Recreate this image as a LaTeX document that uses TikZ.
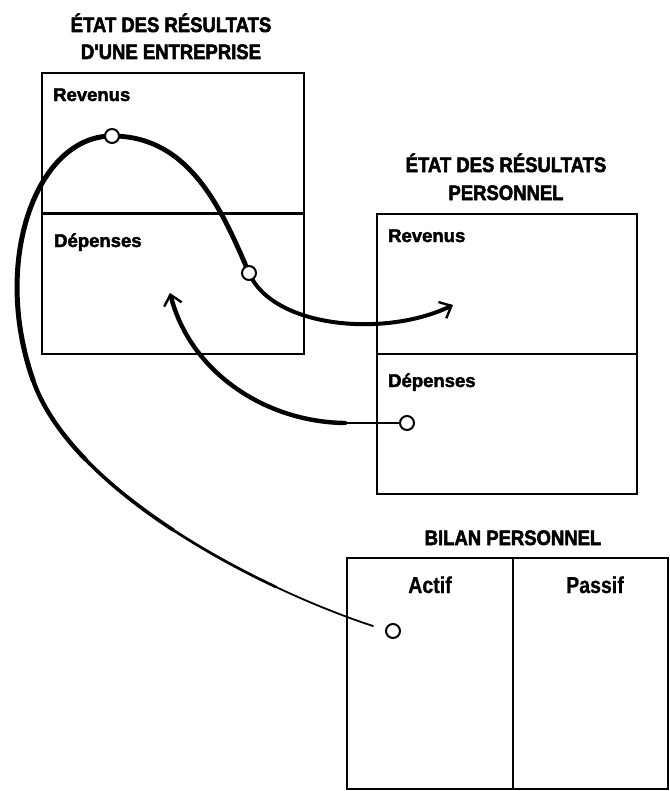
\documentclass[tikz,border=0pt]{standalone}
\usepackage{fontspec}
\setmainfont{Liberation Sans}
\newfontfamily\condfont{Liberation Sans}[FakeStretch=0.88, BoldFeatures={FakeBold=2.5}]
\newfontfamily\labfont{Liberation Sans}[BoldFeatures={FakeBold=2.2}]
\newfontfamily\actfont{Liberation Sans}[FakeStretch=0.85, BoldFeatures={FakeBold=0.8}]
\usetikzlibrary{arrows.meta}
\begin{document}
\begin{tikzpicture}[x=1bp,y=-1bp,
  box/.style={draw, line width=2.8bp, inner sep=0, outer sep=0},
  divline/.style={line width=2.8bp},
  title/.style={font=\condfont\bfseries\fontsize{21bp}{25bp}\selectfont, anchor=base, inner sep=0},
  lab/.style={font=\labfont\bfseries\fontsize{18.5bp}{22bp}\selectfont, anchor=base west, inner sep=0},
  col/.style={font=\actfont\bfseries\fontsize{23bp}{27bp}\selectfont, anchor=base, inner sep=0},
  dot/.style={circle, draw, fill=white, line width=2bp, minimum size=14bp, inner sep=0},
  flow/.style={line cap=round, line join=round},
  tip/.style={-{Straight Barb[length=10bp,width=18bp,line width=2.4bp]}}
]
\useasboundingbox[fill=white] (0,0) rectangle (670,791);

% titles
\node[title] (t1a) at (171,32) {ÉTAT DES RÉSULTATS};
\node[title] (t1b) at (171,59) {D'UNE ENTREPRISE};
\node[title] (t2a) at (506,172) {ÉTAT DES RÉSULTATS};
\node[title] (t2b) at (506,200) {PERSONNEL};
\node[title] (t3) at (513,545) {BILAN PERSONNEL};

% boxes
\node[box, minimum width=262bp, minimum height=281bp, anchor=north west] (b1) at (42,73) {};
\draw[divline] (b1.west) -- (b1.east);
\node[box, minimum width=260bp, minimum height=280bp, anchor=north west] (b2) at (377,214) {};
\draw[divline] (b2.west) -- (b2.east);
\node[box, minimum width=321bp, minimum height=231bp, anchor=north west] (b3) at (347,558) {};
\draw[divline] (b3.north -| 513,0) -- (b3.south -| 513,0);

% labels
\node[lab] (r1) at (53,101) {Revenus};
\node[lab] (e1) at (54,247) {Dépenses};
\node[lab] (r2) at (388,242) {Revenus};
\node[lab] (e2) at (388,387) {Dépenses};
\node[col] (ac) at (430,593) {Actif};
\node[col] (pa) at (595,593) {Passif};

% points
\coordinate (p1) at (112,136);
\coordinate (p2) at (249,273);
\coordinate (p3) at (407,423);
\coordinate (p4) at (393,631);
\coordinate (a0) at (373,626);
\coordinate (qa) at (276.03,587);
\coordinate (m1) at (173.25,530);
\coordinate (qc) at (85.6,459.5);
\coordinate (l1) at (33,380);
\coordinate (tp1) at (453,305);
\coordinate (h1) at (345,423);
\coordinate (tp2) at (170,293);

% main curve, tapering toward the asset end
\draw[flow, line width=1.8bp] (a0) .. controls (344,616.5) and (310.5,603.25) .. (qa);
\draw[flow, line width=2.7bp] (qa) .. controls (241.56,570.75) and (206.1,551.5) .. (m1);
\draw[flow, line width=3.6bp] (m1) .. controls (140.38,508.5) and (110.06,484.75) .. (qc);
\draw[flow, line width=4.4bp] (qc) .. controls (61.13,434.25) and (42.5,407.5) .. (l1);
\draw[flow, line width=5bp] (l1) .. controls (-9,260) and (37,136) .. (p1);
\draw[flow, line width=4.8bp] (p1) .. controls (190,136) and (222,210) .. (p2);
\draw[flow, line width=4bp, tip] (p2) .. controls (273,328) and (385,338) .. (tp1);

% second curve
\draw[flow, line width=2bp] (p3) -- (h1);
\draw[flow, line width=4.4bp, tip] (h1) .. controls (265,422) and (190,372) .. (tp2);

% dots
\node[dot] (c1) at (p1) {};
\node[dot] (c2) at (p2) {};
\node[dot] (c3) at (p3) {};
\node[dot] (c4) at (p4) {};
\end{tikzpicture}
\end{document}
